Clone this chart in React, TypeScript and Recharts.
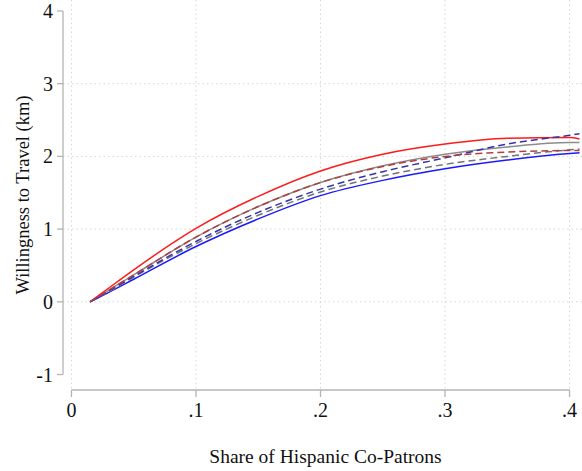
import React from "react";
import {
  CartesianGrid,
  Line,
  LineChart,
  ReferenceLine,
  XAxis,
  YAxis,
} from "recharts";

// share of hispanic co-patrons (x) and predicted willingness to travel (km)
const shareX = [0.015, 0.03, 0.05, 0.1, 0.15, 0.2, 0.25, 0.3, 0.35, 0.4, 0.408];
const redSolid = [0, 0.19, 0.44, 1.01, 1.45, 1.8, 2.03, 2.17, 2.25, 2.26, 2.24];
const graySolid = [0, 0.16, 0.37, 0.89, 1.31, 1.64, 1.87, 2.03, 2.13, 2.19, 2.19];
const blueSolid = [0, 0.13, 0.31, 0.76, 1.14, 1.46, 1.67, 1.83, 1.95, 2.04, 2.05];
const redDashed = [0, 0.16, 0.37, 0.89, 1.31, 1.64, 1.86, 2.0, 2.06, 2.08, 2.08];
const grayDashed = [0, 0.14, 0.34, 0.8, 1.19, 1.51, 1.73, 1.89, 2.0, 2.09, 2.1];
const blueDashed = [0, 0.15, 0.35, 0.83, 1.23, 1.55, 1.79, 1.98, 2.17, 2.29, 2.31];

const xTicks = [0, 0.1, 0.2, 0.3, 0.4];
const xTickLabels = ["0", ".1", ".2", ".3", ".4"];
const yTicks = [-1, 0, 1, 2, 3, 4];

const data = shareX.map((x, i) => ({
  x,
  redSolid: redSolid[i],
  graySolid: graySolid[i],
  blueSolid: blueSolid[i],
  redDashed: redDashed[i],
  grayDashed: grayDashed[i],
  blueDashed: blueDashed[i],
}));

const X_MIN = -0.0068;
const X_MAX = 0.41;
const Y_MIN = -1.213;
const Y_MAX = 4.151;

const font = "'Liberation Serif', 'Times New Roman', serif";
const axisGray = "#b4b4b4";

export default function App() {
  return (
    <div
      style={{
        position: "absolute",
        left: 0,
        top: 0,
        background: "#fff",
        fontFamily: font,
      }}
    >
      <LineChart
        width={582}
        height={471}
        data={data}
        margin={{ top: 0, right: 0, left: 0, bottom: 0 }}
        style={{ fontFamily: font }}
      >
        <CartesianGrid
          stroke="#d6d6d6"
          strokeDasharray="1.5 3"
          horizontalValues={[0, 1, 2, 3]}
          verticalValues={xTicks}
        />
        <XAxis
          dataKey="x"
          type="number"
          domain={[X_MIN, X_MAX]}
          allowDataOverflow
          ticks={xTicks}
          interval={0}
          tickFormatter={(v: number) => xTickLabels[xTicks.indexOf(v)] ?? String(v)}
          height={81}
          axisLine={false}
          tickLine={{ stroke: axisGray, strokeWidth: 1.3 }}
          tickSize={7}
          tickMargin={6}
          tick={{ fill: "#111", fontSize: 20, fontFamily: font, style: { fontFamily: font } }}
          label={{
            value: "Share of Hispanic Co-Patrons",
            position: "insideBottom",
            offset: 8,
            dx: 3,
            style: { fill: "#111", fontSize: 19.5, fontFamily: font },
          }}
        />
        <YAxis
          type="number"
          domain={[Y_MIN, Y_MAX]}
          allowDataOverflow
          ticks={yTicks}
          interval={0}
          width={63}
          axisLine={false}
          tickLine={{ stroke: axisGray, strokeWidth: 1.3 }}
          tickSize={6}
          tickMargin={4}
          tick={{ fill: "#111", fontSize: 20, fontFamily: font, style: { fontFamily: font } }}
          label={{
            value: "Willingness to Travel (km)",
            angle: -90,
            position: "insideLeft",
            offset: 22,
            style: { fill: "#111", fontSize: 18.5, fontFamily: font, textAnchor: "middle" },
          }}
        />
        <ReferenceLine
          segment={[
            { x: X_MIN, y: -1 },
            { x: X_MIN, y: 4 },
          ]}
          stroke={axisGray}
          strokeWidth={1.3}
          ifOverflow="visible"
        />
        <ReferenceLine
          segment={[
            { x: 0, y: Y_MIN },
            { x: 0.4, y: Y_MIN },
          ]}
          stroke={axisGray}
          strokeWidth={1.3}
          ifOverflow="visible"
        />
        <Line dataKey="graySolid" type="monotone" stroke="#8c8c8c" strokeWidth={1.5} dot={false} isAnimationActive={false} />
        <Line dataKey="blueSolid" type="monotone" stroke="#1a1aff" strokeWidth={1.5} dot={false} isAnimationActive={false} />
        <Line dataKey="redSolid" type="monotone" stroke="#ff1a1a" strokeWidth={1.5} dot={false} isAnimationActive={false} />
        <Line dataKey="grayDashed" type="monotone" stroke="#737373" strokeWidth={1.5} strokeDasharray="7 4" dot={false} isAnimationActive={false} />
        <Line dataKey="blueDashed" type="monotone" stroke="#3333a8" strokeWidth={1.5} strokeDasharray="7 4" dot={false} isAnimationActive={false} />
        <Line dataKey="redDashed" type="monotone" stroke="#b04040" strokeWidth={1.5} strokeDasharray="7 4" dot={false} isAnimationActive={false} />
      </LineChart>
    </div>
  );
}
